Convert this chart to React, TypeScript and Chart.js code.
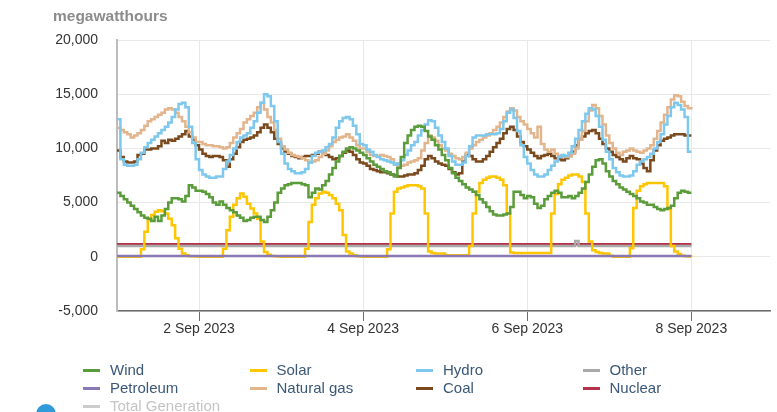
import React, { useEffect, useRef } from 'react';
import { Chart, registerables } from 'chart.js';

Chart.register(...registerables);

const FONT = '"Liberation Sans", Arial, Helvetica, sans-serif';

// x values are hours since 1 Sep 2023 00:00
const xTickHours = [24, 72, 120, 168];
const xTickLabels = ['2 Sep 2023', '4 Sep 2023', '6 Sep 2023', '8 Sep 2023'];
const yTicks = [-5000, 0, 5000, 10000, 15000, 20000];

// hourly values, MWh (1 Sep 00:00 ... 8 Sep 00:00)
const wind = [
  5900, 5600, 5300, 5000, 4700, 4400, 4100, 3800, 3600, 3500, 3300, 3700, 3300, 3800, 4400, 5000, 5400, 5400, 5300, 5100, 5600, 6600, 6400, 6100,
  6100, 6000, 5800, 5500, 5000, 4800, 5100, 4800, 4500, 4300, 4100, 3800, 3600, 3300, 3400, 3600, 3700, 3700, 3400, 3200, 3700, 4300, 5000, 5900,
  6300, 6600, 6700, 6800, 6800, 6800, 6700, 6600, 5500, 5900, 6300, 6200, 6600, 7000, 7600, 8200, 8800, 9300, 9700, 10000, 10100, 10000, 9800, 9600,
  9400, 9100, 8800, 8500, 8300, 8100, 7900, 7800, 7600, 7400, 8200, 9200, 10500, 11200, 11700, 12000, 12100, 12000, 11600, 11100, 10800, 10300, 9900, 9400,
  8900, 8200, 7700, 7300, 7000, 6700, 6400, 6200, 6000, 5700, 5300, 5000, 4600, 4200, 3900, 3800, 3800, 3900, 4000, 4600, 6000, 6000, 5700, 5400,
  5600, 5500, 4900, 4500, 4700, 5300, 5600, 5900, 6100, 5900, 5500, 5500, 5600, 5400, 5600, 5900, 6300, 6900, 7600, 8300, 8900, 9000, 8600, 7900,
  7400, 7000, 6700, 6400, 6200, 6000, 5800, 5600, 5400, 5100, 5000, 4800, 4800, 4600, 4400, 4300, 4400, 4500, 4700, 5400, 5900, 6100, 6000, 5900, 5900,
];

const solar = [
  0, 0, 0, 0, 0, 0, 0, 700, 2300, 3400, 3850, 4150, 4300, 4200, 4000, 3500, 2900, 1700, 750, 300, 140, 60, 40, 20,
  0, 0, 0, 0, 0, 0, 0, 750, 2450, 3700, 4800, 5400, 5850, 5550, 4900, 4450, 4000, 3500, 1400, 450, 200, 80, 40, 20,
  0, 0, 0, 0, 0, 0, 0, 750, 3200, 4800, 5400, 5850, 6000, 5900, 5700, 5400, 4900, 4300, 2000, 500, 300, 150, 40, 20,
  0, 0, 0, 0, 0, 0, 0, 700, 4000, 6000, 6300, 6400, 6500, 6600, 6600, 6600, 6500, 6300, 4000, 500, 350, 300, 300, 300,
  150, 150, 150, 150, 150, 150, 150, 1000, 4000, 6000, 6800, 7100, 7300, 7400, 7400, 7300, 7100, 6600, 4000, 400, 350, 350, 350, 350,
  350, 350, 350, 350, 350, 350, 350, 4000, 5800, 6700, 7100, 7300, 7500, 7600, 7600, 7400, 6900, 4000, 1400, 600, 450, 350, 300, 300,
  100, 0, 0, 0, 0, 0, 800, 4500, 6100, 6500, 6700, 6800, 6800, 6800, 6800, 6800, 6500, 4400, 1000, 500, 250, 100, 50, 20, 0,
];

const hydro = [
  12700, 9000, 8500, 8400, 8400, 8500, 9000, 9600, 10100, 10500, 10800, 11100, 11400, 11700, 12000, 12400, 12900, 13600, 14100, 14200, 13800, 12000, 10500, 9000,
  8000, 7600, 7400, 7300, 7300, 7400, 7400, 8100, 8800, 9400, 10000, 10600, 11000, 11200, 11400, 11900, 12500, 13300, 14200, 15000, 14800, 13900, 12500, 10600,
  9500, 8600, 8100, 7900, 7700, 7700, 7800, 8100, 8700, 9300, 9600, 9700, 9800, 10100, 10400, 11000, 11900, 12500, 12800, 12900, 12700, 12100, 11300, 10400,
  10300, 9900, 9700, 9400, 9200, 9000, 8900, 8800, 8700, 8500, 8600, 8900, 9400, 9800, 10300, 10600, 11200, 11700, 12200, 12600, 12500, 11900, 11200, 10600,
  10000, 9300, 8800, 8500, 8500, 8700, 9300, 10200, 11000, 11200, 11200, 11200, 11300, 11300, 11300, 11400, 11800, 12500, 13300, 13600, 12800, 11600, 10300, 9200,
  8600, 8000, 7600, 7400, 7400, 7600, 8000, 8400, 8800, 9200, 9400, 9300, 9600, 10200, 10900, 11700, 12500, 13200, 13700, 13600, 13000, 12000, 10800, 9700,
  9000, 8200, 7800, 7500, 7400, 7400, 7500, 7900, 8500, 8800, 9000, 9200, 9500, 10000, 10600, 11300, 12200, 13000, 13800, 14200, 14000, 13600, 12900, 9700, 9700,
];

const naturalGas = [
  11900, 11700, 11500, 11300, 11000, 11200, 11400, 11700, 12100, 12500, 12700, 12900, 13100, 13300, 13600, 13700, 13600, 13300, 12900, 12500, 12000, 11500, 11000, 10600,
  10600, 10400, 10300, 10300, 10200, 10200, 10100, 10000, 10100, 10500, 11000, 11400, 11800, 12400, 12700, 13000, 13300, 13800, 14200, 13600, 12900, 12400, 11700, 10900,
  10200, 9900, 9600, 9400, 9300, 9200, 9100, 8900, 8700, 8800, 8900, 9200, 9500, 9800, 10200, 10600, 10800, 11000, 11100, 11300, 11000, 10700, 10300, 10000,
  10000, 9700, 9400, 9300, 9300, 9400, 9300, 9200, 9000, 8600, 8400, 8400, 8500, 8700, 8800, 8900, 9100, 9800, 10500, 11200, 11000, 10700, 10300, 10000,
  9800, 9500, 9300, 9100, 9000, 9200, 9600, 10000, 10300, 10600, 10800, 11000, 11200, 11400, 11700, 12000, 12400, 12900, 13400, 13700, 13500, 12900, 12500, 12200,
  11800, 11400, 11000, 12000, 10400, 9900, 9700, 9900, 9500, 9300, 9200, 9200, 9300, 9500, 10000, 10800, 11600, 12500, 13500, 14000, 13700, 13000, 12200, 11200,
  10500, 10000, 9600, 9400, 9700, 9800, 10000, 9800, 9700, 9600, 9800, 10000, 10300, 10900, 11600, 12400, 13100, 13800, 14500, 14900, 14800, 14300, 13900, 13700, 13600,
];

const coal = [
  9800, 9200, 8800, 8700, 8700, 8800, 9400, 9500, 9900, 9900, 10000, 10000, 10200, 10700, 10500, 10800, 10700, 10900, 11100, 11300, 11600, 11100, 10800, 10300,
  9900, 9500, 9300, 9200, 9300, 9300, 9200, 8900, 8300, 9000, 9500, 10100, 10600, 10800, 10900, 11000, 11200, 11500, 11900, 12200, 11900, 11500, 10900, 10400,
  10000, 9700, 9500, 9300, 9200, 9100, 9200, 9300, 9300, 9400, 9500, 9700, 9500, 9400, 9200, 9000, 9100, 9300, 9600, 9800, 9700, 9400, 9000, 8700,
  8600, 8400, 8100, 8000, 7900, 7800, 7800, 7700, 7600, 7500, 7400, 7400, 7500, 7600, 7600, 7700, 8000, 8400, 9000, 9300, 9100, 8800, 8600, 8500,
  8400, 8100, 7800, 7600, 7700, 8800, 9400, 9300, 9000, 8800, 8800, 9000, 9300, 9700, 10100, 10500, 10900, 11400, 11800, 12000, 11700, 11100, 10600, 10200,
  9900, 9600, 9300, 9100, 9300, 9400, 9500, 9300, 9100, 9000, 8900, 9100, 9300, 9700, 10300, 10800, 11100, 11400, 11600, 11700, 11400, 10900, 10400, 10000,
  9700, 9400, 9200, 9000, 8800, 9100, 9300, 9100, 9000, 8600, 8200, 7900, 8900, 9800, 10300, 10700, 10900, 11000, 11200, 11300, 11300, 11300, 11200, 11200, 11200,
];

// near-flat series: [hour, value] change points
const nuclearPoints = [[0, 1150], [168, 1150]];
const otherPoints = [[0, 1000], [134, 1450], [135, 1000], [168, 1000]];
const petroleumPoints = [[0, 80], [168, 80]];

const seriesNames = ['Wind', 'Solar', 'Hydro', 'Other', 'Petroleum', 'Natural gas', 'Coal', 'Nuclear', 'Total Generation'];
const seriesColors = ['#5b9c3a', '#ffc600', '#7dc8ec', '#a9a9a9', '#8a78b2', '#e2b58c', '#7a4a1e', '#b3344a', '#cccccc'];

const hourly = (arr: number[]) => arr.map((v, i) => ({ x: i, y: v }));
const sparse = (arr: number[][]) => arr.map(([x, y]) => ({ x, y }));

export default function App() {
  const canvasRef = useRef<HTMLCanvasElement>(null);

  useEffect(() => {
    document.body.style.margin = '0';
    const ctx = canvasRef.current;
    if (!ctx) return;
    const dataByName: Record<string, { x: number; y: number }[]> = {
      Wind: hourly(wind),
      Solar: hourly(solar),
      Hydro: hourly(hydro),
      Other: sparse(otherPoints),
      Petroleum: sparse(petroleumPoints),
      'Natural gas': hourly(naturalGas),
      Coal: hourly(coal),
      Nuclear: sparse(nuclearPoints),
    };
    const datasets = seriesNames
      .filter((n) => dataByName[n])
      .map((n) => ({
        label: n,
        data: dataByName[n],
        borderColor: seriesColors[seriesNames.indexOf(n)],
        backgroundColor: seriesColors[seriesNames.indexOf(n)],
        borderWidth: 2.5,
        pointRadius: 0,
        stepped: true as const,
        fill: false,
        order: n === 'Petroleum' ? -1 : 0,
      }));

    const chart = new Chart(ctx, {
      type: 'line',
      data: { datasets },
      options: {
        responsive: false,
        animation: false,
        layout: { padding: { top: 40, right: 7, bottom: 71, left: 0 } },
        plugins: {
          legend: { display: false },
          tooltip: { enabled: false },
          title: { display: false },
        },
        scales: {
          x: {
            type: 'linear',
            min: 0,
            max: 191,
            afterFit: (s: any) => {
              s.height = 30;
            },
            afterBuildTicks: (s: any) => {
              s.ticks = xTickHours.map((v) => ({ value: v }));
            },
            ticks: {
              autoSkip: false,
              maxRotation: 0,
              padding: 0,
              color: '#333',
              font: { family: FONT, size: 14 },
              callback: (v: any) => xTickLabels[xTickHours.indexOf(Number(v))] ?? '',
            },
            grid: { color: '#e8e8e8', tickColor: '#6b6b6b', tickLength: 10, lineWidth: 1 },
            border: { color: '#6b6b6b', width: 1.5 },
          },
          y: {
            type: 'linear',
            min: -5000,
            max: 20000,
            afterFit: (s: any) => {
              s.width = 117;
            },
            afterBuildTicks: (s: any) => {
              s.ticks = yTicks.map((v) => ({ value: v }));
            },
            ticks: {
              padding: 19,
              color: '#333',
              font: { family: FONT, size: 14 },
              callback: (v: any) => Number(v).toLocaleString('en-US'),
            },
            grid: { color: '#e8e8e8', drawTicks: false, lineWidth: 1 },
            border: { color: '#bdbdbd', width: 2 },
          },
        },
      },
    });
    return () => chart.destroy();
  }, []);

  const colX = [83, 249.5, 416, 582.5];
  const rowY = [370, 388, 406];

  return (
    <div style={{ position: 'relative', width: 777, height: 412, overflow: 'hidden', background: '#fff', fontFamily: FONT }}>
      <canvas ref={canvasRef} width={777} height={412} style={{ position: 'absolute', left: 0, top: 0 }} />
      <div
        style={{
          position: 'absolute',
          left: 53,
          top: 8,
          fontSize: 15.5,
          lineHeight: '15.5px',
          fontWeight: 'bold',
          color: '#8c8c8c',
          whiteSpace: 'nowrap',
        }}
      >
        megawatthours
      </div>
      {seriesNames.map((name, i) => {
        const col = i % 4;
        const row = Math.floor(i / 4);
        const hiddenItem = name === 'Total Generation';
        return (
          <React.Fragment key={name}>
            <div
              style={{
                position: 'absolute',
                left: colX[col],
                top: rowY[row] - 1.5,
                width: 17,
                height: 3,
                background: seriesColors[i],
              }}
            />
            <div
              style={{
                position: 'absolute',
                left: colX[col] + 27,
                top: rowY[row] - 9,
                fontSize: 15,
                lineHeight: '18px',
                color: hiddenItem ? '#c4c4c4' : '#3b5878',
                whiteSpace: 'nowrap',
              }}
            >
              {name}
            </div>
          </React.Fragment>
        );
      })}
      <div
        style={{
          position: 'absolute',
          left: 36,
          top: 404,
          width: 20,
          height: 20,
          borderRadius: '50%',
          background: '#2f9bd8',
        }}
      />
    </div>
  );
}
